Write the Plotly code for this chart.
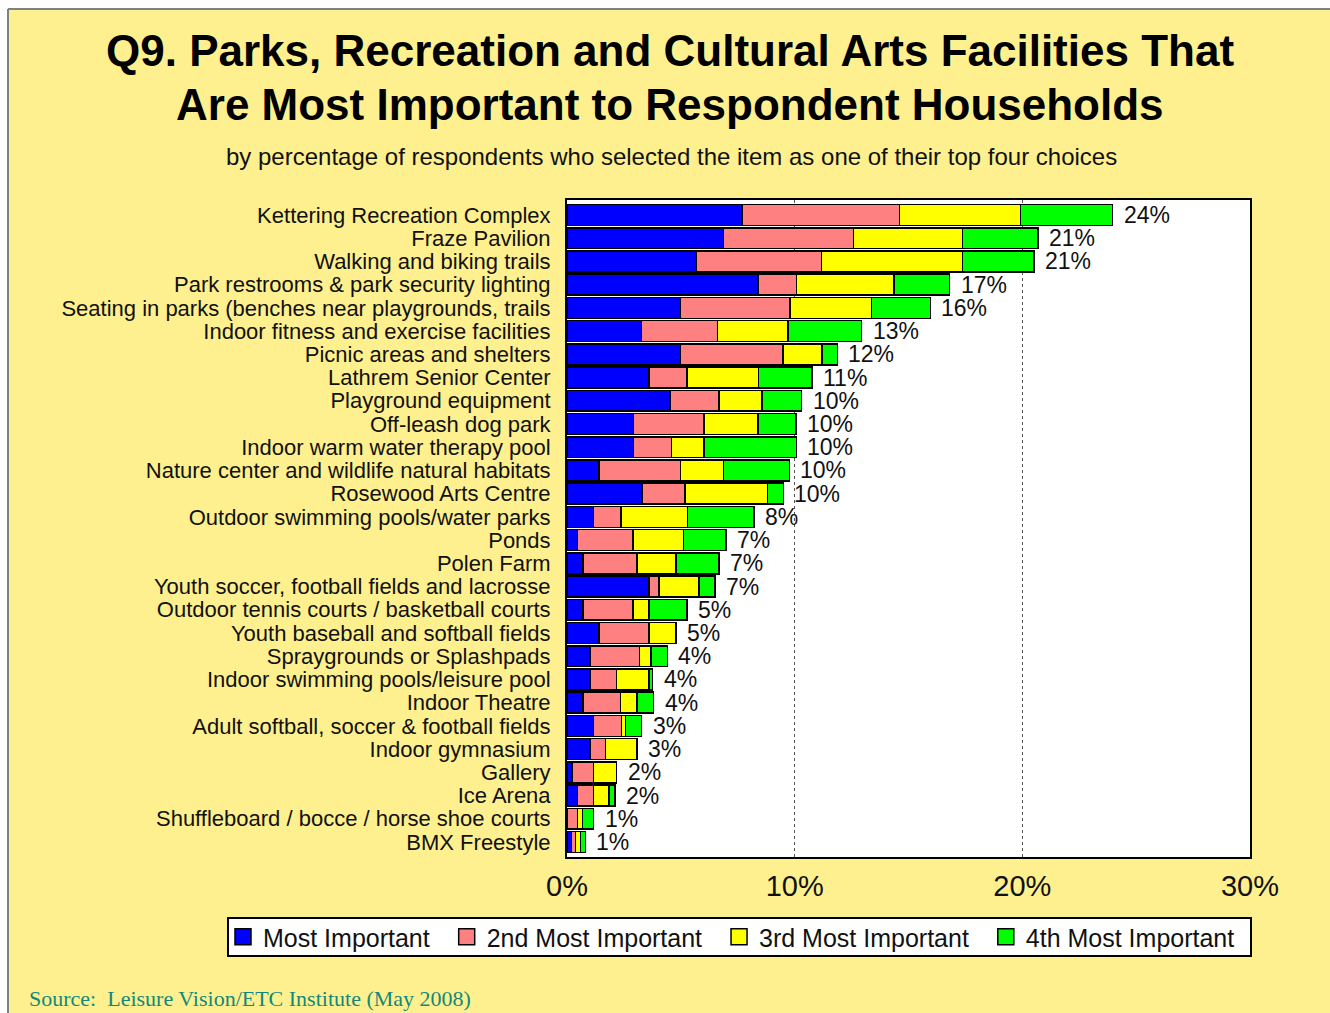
import plotly.graph_objects as go

categories = [
    "Kettering Recreation Complex",
    "Fraze Pavilion",
    "Walking and biking trails",
    "Park restrooms & park security lighting",
    "Seating in parks (benches near playgrounds, trails",
    "Indoor fitness and exercise facilities",
    "Picnic areas and shelters",
    "Lathrem Senior Center",
    "Playground equipment",
    "Off-leash dog park",
    "Indoor warm water therapy pool",
    "Nature center and wildlife natural habitats",
    "Rosewood Arts Centre",
    "Outdoor swimming pools/water parks",
    "Ponds",
    "Polen Farm",
    "Youth soccer, football fields and lacrosse",
    "Outdoor tennis courts / basketball courts",
    "Youth baseball and softball fields",
    "Spraygrounds or Splashpads",
    "Indoor swimming pools/leisure pool",
    "Indoor Theatre",
    "Adult softball, soccer & football fields",
    "Indoor gymnasium",
    "Gallery",
    "Ice Arena",
    "Shuffleboard / bocce / horse shoe courts",
    "BMX Freestyle",
]

most_important = [7.68, 6.87, 5.69, 8.39, 4.99, 3.28, 4.99, 3.61, 4.52, 2.91, 2.91, 1.40, 3.29, 1.17,
                  0.47, 0.71, 3.61, 0.71, 1.40, 1.00, 1.00, 0.71, 1.17, 1.00, 0.21, 0.47, 0.00, 0.19]
second_most = [6.93, 5.71, 5.49, 1.68, 4.80, 3.33, 4.50, 1.67, 2.16, 3.10, 1.67, 3.58, 1.90, 1.20,
               2.43, 2.37, 0.44, 2.18, 2.21, 2.18, 1.18, 1.65, 1.23, 0.68, 0.96, 0.70, 0.45, 0.18]
third_most = [5.30, 4.79, 6.19, 4.30, 3.59, 3.10, 1.70, 3.13, 1.89, 2.37, 1.43, 1.90, 3.61, 2.93,
              2.21, 1.70, 1.75, 0.71, 1.17, 0.50, 1.43, 0.71, 0.18, 1.40, 1.01, 0.68, 0.24, 0.22]
fourth_most = [4.06, 3.32, 3.14, 2.44, 2.58, 3.23, 0.69, 2.35, 1.74, 1.68, 4.07, 2.89, 0.70, 2.91,
               1.87, 1.90, 0.70, 1.68, 0.00, 0.73, 0.15, 0.73, 0.70, 0.00, 0.00, 0.25, 0.48, 0.22]
total_labels = ["24%", "21%", "21%", "17%", "16%", "13%", "12%", "11%", "10%", "10%", "10%", "10%",
                "10%", "8%", "7%", "7%", "7%", "5%", "5%", "4%", "4%", "4%", "3%", "3%", "2%", "2%",
                "1%", "1%"]
x_ticks = [0, 10, 20, 30]
x_tick_labels = ["0%", "10%", "20%", "30%"]

series = [
    ("Most Important", most_important, "#0000FF"),
    ("2nd Most Important", second_most, "#FF8080"),
    ("3rd Most Important", third_most, "#FFFF00"),
    ("4th Most Important", fourth_most, "#00FF00"),
]

W, H = 1330, 1013
L, R, T, B = 567, 1250, 200, 857
BG = "#FEF08E"
FONT = "Liberation Sans, Arial"

fig = go.Figure()
for name, vals, color in series:
    fig.add_trace(go.Bar(
        y=categories, x=vals, name=name, orientation="h",
        marker=dict(color=color, line=dict(color="black", width=1.5)),
        showlegend=False, hoverinfo="x+y+name",
    ))
# legend entries (larger square swatches)
for name, vals, color in series:
    fig.add_trace(go.Scatter(
        x=[None], y=[None], mode="markers", name=name + "\u00a0\u2009",
        marker=dict(symbol="square", size=16, color=color, line=dict(color="black", width=1.5)),
        showlegend=True, hoverinfo="skip",
    ))

totals = [a + b + c + d for a, b, c, d in zip(most_important, second_most, third_most, fourth_most)]
for cat, tot, lab in zip(categories, totals, total_labels):
    fig.add_annotation(x=tot, y=cat, xref="x", yref="y", text=lab, showarrow=False,
                       xanchor="left", yanchor="middle", xshift=9,
                       font=dict(family=FONT, size=23, color="#111"))

def px_x(p):
    return (p - L) / (R - L)

def px_y(p):
    return (B - p) / (B - T)

# title / subtitle / source
fig.add_annotation(x=px_x(670), y=px_y(51), xref="paper", yref="paper", showarrow=False,
                   text="<b>Q9. Parks, Recreation and Cultural Arts Facilities That</b>",
                   xanchor="center", yanchor="middle",
                   font=dict(family=FONT, size=44, color="black"))
fig.add_annotation(x=px_x(670), y=px_y(104), xref="paper", yref="paper", showarrow=False,
                   text="<b>Are Most Important to Respondent Households</b>",
                   xanchor="center", yanchor="middle",
                   font=dict(family=FONT, size=44, color="black"))
fig.add_annotation(x=px_x(671), y=px_y(156), xref="paper", yref="paper", showarrow=False,
                   text="by percentage of respondents who selected the item as one of their top four choices",
                   xanchor="center", yanchor="middle",
                   font=dict(family=FONT, size=24, color="#111"))
fig.add_annotation(x=px_x(27), y=px_y(998), xref="paper", yref="paper", showarrow=False,
                   text="Source:  Leisure Vision/ETC Institute (May 2008)",
                   xanchor="left", yanchor="middle",
                   font=dict(family="Liberation Serif, Times New Roman", size=22, color="#10897C"))

# outer frame (white strips + gray border)
fig.add_shape(type="rect", xref="paper", yref="paper", x0=px_x(0), x1=px_x(8), y0=px_y(1013), y1=px_y(0),
              fillcolor="white", line=dict(width=0), layer="below")
fig.add_shape(type="rect", xref="paper", yref="paper", x0=px_x(0), x1=px_x(1330), y0=px_y(9), y1=px_y(0),
              fillcolor="white", line=dict(width=0), layer="below")
fig.add_shape(type="line", xref="paper", yref="paper", x0=px_x(8), x1=px_x(8), y0=px_y(1013), y1=px_y(9),
              line=dict(color="#808080", width=2))
fig.add_shape(type="line", xref="paper", yref="paper", x0=px_x(8), x1=px_x(1330), y0=px_y(9), y1=px_y(9),
              line=dict(color="#808080", width=2))
# legend box
fig.add_shape(type="rect", xref="paper", yref="paper", x0=px_x(228), x1=px_x(1251), y0=px_y(956), y1=px_y(918),
              fillcolor="white", line=dict(color="black", width=2), layer="below")

fig.update_layout(
    width=W, height=H,
    margin=dict(l=L, r=W - R, t=T, b=H - B, autoexpand=False),
    paper_bgcolor=BG, plot_bgcolor="white",
    barmode="stack", bargap=0.1,
    font=dict(family=FONT, color="#111"),
    showlegend=True,
    legend=dict(orientation="h", x=px_x(223), y=px_y(937), xanchor="left", yanchor="middle",
                bgcolor="rgba(0,0,0,0)", borderwidth=0,
                font=dict(family=FONT, size=25, color="#111"),
                itemwidth=30, traceorder="normal"),
    xaxis=dict(range=[0, 30], tickvals=x_ticks, ticktext=x_tick_labels,
               showgrid=True, gridcolor="#555555", griddash="dot", gridwidth=1,
               showline=True, mirror=True, linecolor="black", linewidth=2,
               zeroline=False, ticks="", ticklabelstandoff=2,
               tickfont=dict(size=29, color="#111"), fixedrange=True),
    yaxis=dict(autorange="reversed", tickmode="array", tickvals=categories, ticktext=categories,
               showline=True, mirror=True, linecolor="black", linewidth=2,
               ticks="", ticklabelstandoff=10, tickfont=dict(size=22, color="#111"),
               showgrid=False, fixedrange=True),
)

fig.write_html("out.html", config={"displayModeBar": False},
               post_script="document.body.style.margin='0';")
